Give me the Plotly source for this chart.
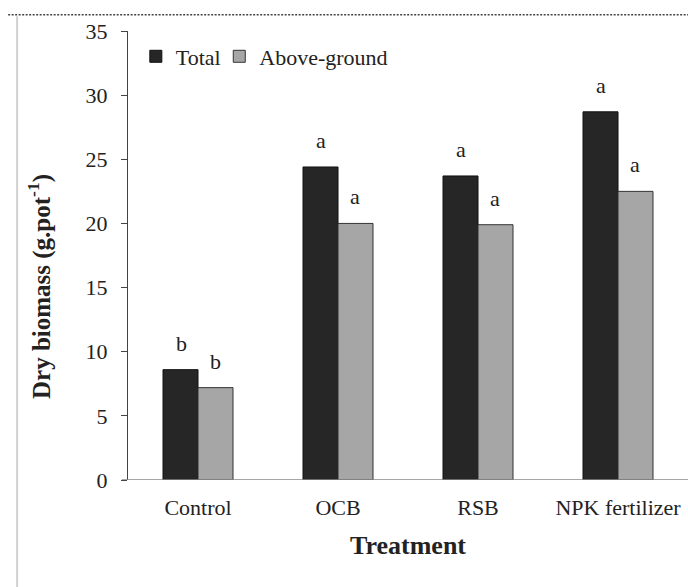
import plotly.graph_objects as go

categories = ["Control", "OCB", "RSB", "NPK fertilizer"]
total = [8.6, 24.4, 23.7, 28.7]
above_ground = [7.2, 20.0, 19.9, 22.5]
total_letters = ["b", "a", "a", "a"]
above_letters = ["b", "a", "a", "a"]
y_ticks = [0, 5, 10, 15, 20, 25, 30, 35]

FONT = "Liberation Serif"
TXT = "#222222"

fig = go.Figure()
fig.add_trace(go.Bar(x=categories, y=total, name="Total", legend="legend",
                     marker=dict(color="#262626", line=dict(color="#111111", width=1))))
fig.add_trace(go.Bar(x=categories, y=above_ground, name="Above-ground", legend="legend2",
                     marker=dict(color="#a6a6a6", line=dict(color="#333333", width=1))))

for cat, v, t in zip(categories, total, total_letters):
    fig.add_annotation(x=cat, y=v, text=t, showarrow=False, xshift=-17, yshift=12,
                       yanchor="bottom", font=dict(family=FONT, size=22, color=TXT))
for cat, v, t in zip(categories, above_ground, above_letters):
    fig.add_annotation(x=cat, y=v, text=t, showarrow=False, xshift=17, yshift=12,
                       yanchor="bottom", font=dict(family=FONT, size=22, color=TXT))

# y-axis title (placed as annotation, slightly below plot centre as in reference)
fig.add_annotation(xref="paper", yref="paper", x=-0.157, y=0.43, textangle=-90,
                   xanchor="center", yanchor="middle",
                   text="<b>Dry biomass (g.pot<sup>-1</sup>)</b>", showarrow=False,
                   font=dict(family=FONT, size=25, color=TXT))

# x baseline extended to the tick
fig.add_shape(type="line", xref="paper", yref="y", x0=-0.011, x1=1.0, y0=0, y1=0,
              line=dict(color="#888", width=1.5))
# decorative page borders
fig.add_shape(type="line", xref="paper", yref="paper", x0=-0.214, x1=1.0, y0=1.036, y1=1.036,
              line=dict(color="#444", width=1.5, dash="2px,1.5px"))
fig.add_shape(type="line", xref="paper", yref="paper", x0=-0.198, x1=-0.198, y0=1.033, y1=-0.24,
              line=dict(color="#d0d0d0", width=2))

legend_common = dict(orientation="h", y=0.99, xanchor="left", yanchor="top",
                     font=dict(family=FONT, size=22, color=TXT),
                     bgcolor="rgba(0,0,0,0)", itemwidth=30)

fig.update_layout(
    width=688, height=587,
    margin=dict(l=128, r=0, t=31, b=107),
    plot_bgcolor="white", paper_bgcolor="white",
    barmode="group", bargap=0.5, bargroupgap=0,
    font=dict(family=FONT, size=22, color=TXT),
    showlegend=True,
    legend=dict(x=0.014, **legend_common),
    legend2=dict(x=0.163, **legend_common),
    xaxis=dict(showline=False, ticks="", ticklabelstandoff=12,
               tickfont=dict(family=FONT, size=22, color=TXT),
               title=dict(text="<b>Treatment</b>", font=dict(family=FONT, size=26, color=TXT), standoff=16)),
    yaxis=dict(range=[0, 35], tickvals=y_ticks, showline=True, linecolor="#444", linewidth=1,
               ticks="outside", ticklen=6, tickcolor="#444", showgrid=False, zeroline=False,
               ticklabelstandoff=9,
               tickfont=dict(family=FONT, size=22, color=TXT)),
)

fig.write_html("out.html")
